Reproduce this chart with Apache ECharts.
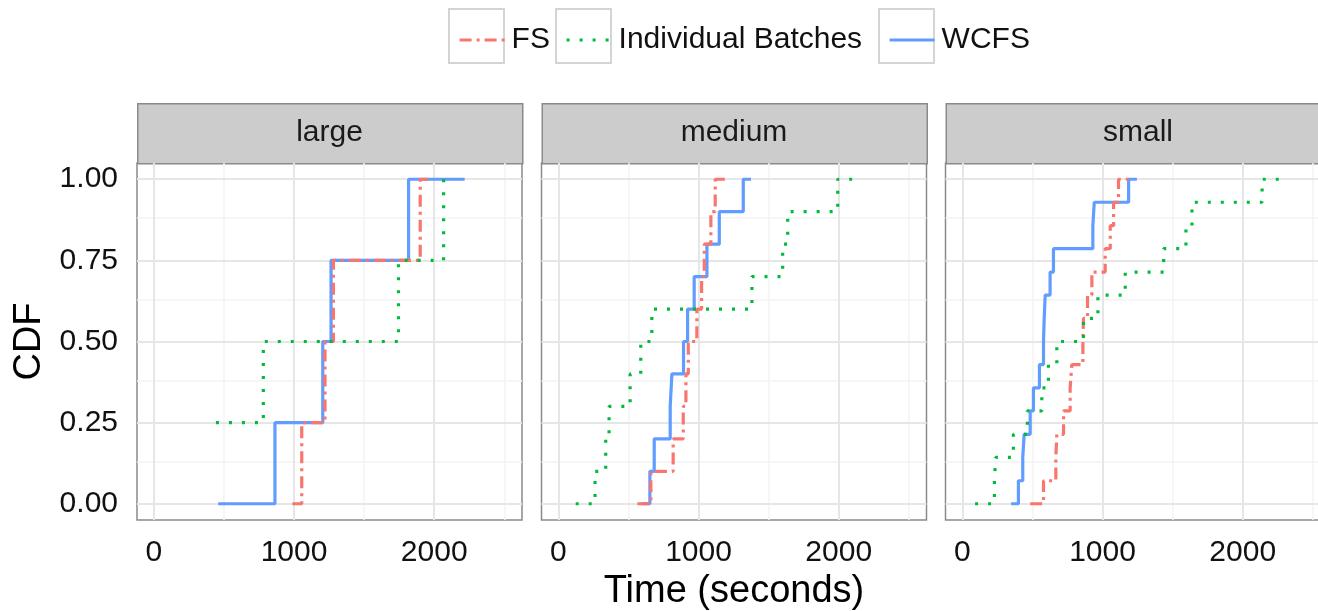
<!DOCTYPE html>
<html>
<head>
<meta charset="utf-8">
<script src="https://cdn.jsdelivr.net/npm/echarts@6/dist/echarts.min.js"></script>
<style>
  html, body { margin: 0; padding: 0; background: #fff; }
  #chart { width: 1318px; height: 611px; }
</style>
</head>
<body>
<div id="chart"></div>
<script>
const PANELS = ['large', 'medium', 'small'];
const NAMES = ['FS', 'Individual Batches', 'WCFS'];
const X_TICKS = [0, 1000, 2000];
const X_MINOR = [500, 1500, 2500];
const Y_TICKS = [0, 0.25, 0.5, 0.75, 1];
const Y_MINOR = [0.125, 0.375, 0.625, 0.875];

// large (4 jobs)
const largeFsX = [988, 1055, 1221, 1281, 1900, 1955];
const largeFsY = [0, 0.25, 0.5, 0.75, 1, 1];
const largeBatchX = [443, 781, 1745, 2067];
const largeBatchY = [0.25, 0.5, 0.75, 1];
const largeWcfsX = [459, 864, 1205, 1264, 1817, 2217];
const largeWcfsY = [0, 0.25, 0.5, 0.75, 1, 1];

// medium (10 jobs)
const mediumY = [0, 0.1, 0.2, 0.3, 0.4, 0.5, 0.6, 0.7, 0.8, 0.9, 1, 1];
const mediumFsX = [564, 660, 819, 891, 910, 927, 988, 1022, 1041, 1088, 1119, 1219];
const mediumBatchX = [124, 262, 338, 362, 512, 588, 667, 1381, 1600, 1636, 1993, 2124];
const mediumWcfsX = [596, 653, 684, 798, 810, 893, 922, 969, 1060, 1148, 1319, 1374];

// small (14 jobs)
const smallY = [0, 0.071, 0.143, 0.214, 0.286, 0.357, 0.429, 0.5, 0.571, 0.643, 0.714, 0.786, 0.857, 0.929, 1, 1];
const smallFsX = [484, 579, 667, 674, 722, 769, 781, 860, 864, 893, 924, 1019, 1055, 1079, 1114, 1186];
const smallBatchX = [91, 229, 238, 364, 464, 567, 614, 674, 864, 967, 1162, 1436, 1595, 1638, 2138, 2281];
const smallWcfsX = [348, 400, 431, 441, 484, 507, 550, 579, 584, 591, 626, 650, 931, 941, 1186, 1245];

const curves = [
  [[largeFsX, largeFsY], [largeBatchX, largeBatchY], [largeWcfsX, largeWcfsY]],
  [[mediumFsX, mediumY], [mediumBatchX, mediumY], [mediumWcfsX, mediumY]],
  [[smallFsX, smallY], [smallBatchX, smallY], [smallWcfsX, smallY]]
];

const COLORS = ['#F8766D', '#00BA38', '#619CFF'];
const DASHES = [[12, 5, 3, 5], [3, 10], 'solid'];
const FONT = 'Liberation Sans, Arial, sans-serif';

const GRID_LEFT = [137, 541.5, 945.5];
const GRID_W = 385;
const GRID_TOP = 163;
const GRID_H = 357;
const STRIP_H = 60;

const chart = echarts.init(document.getElementById('chart'));

const grids = [], xAxes = [], yAxes = [], series = [], graphics = [];

PANELS.forEach((panel, i) => {
  grids.push({
    left: GRID_LEFT[i], top: GRID_TOP, width: GRID_W, height: GRID_H,
    show: true, backgroundColor: '#fff', borderColor: '#8a8a8a', borderWidth: 1.5,
    containLabel: false, outerBoundsMode: 'none'
  });
  xAxes.push({
    type: 'value', gridIndex: i, min: -120, max: 2626,
    axisLine: { show: false },
    axisTick: { show: true, length: 8, customValues: X_TICKS, lineStyle: { color: '#333', width: 2 } },
    axisLabel: {
      customValues: X_TICKS, margin: 18, fontSize: 30, color: '#111', fontFamily: FONT,
      formatter: v => String(v)
    },
    splitLine: { show: false },
    name: i === 1 ? 'Time (seconds)' : '',
    nameLocation: 'middle', nameGap: 53,
    nameTextStyle: { fontSize: 38, color: '#000', fontFamily: FONT }
  });
  yAxes.push({
    type: 'value', gridIndex: i, min: -0.05, max: 1.05,
    axisLine: { show: false },
    axisTick: { show: i === 0, length: 9, customValues: Y_TICKS, lineStyle: { color: '#333', width: 2 } },
    axisLabel: {
      show: i === 0, customValues: Y_TICKS, margin: 19, fontSize: 30, color: '#111', fontFamily: FONT,
      formatter: v => v.toFixed(2)
    },
    splitLine: { show: false },
    name: i === 0 ? 'CDF' : '',
    nameLocation: 'middle', nameGap: 88,
    nameTextStyle: { fontSize: 38, color: '#000', fontFamily: FONT }
  });

  // panel grid lines (bottom layer)
  const minor = { color: '#f3f3f3', width: 1.5, type: 'solid' };
  const major = { color: '#e6e6e6', width: 2, type: 'solid' };
  series.push({
    type: 'line', xAxisIndex: i, yAxisIndex: i, data: [], z: 1, silent: true,
    markLine: {
      silent: true, symbol: 'none', label: { show: false }, animation: false,
      data: [
        ...X_MINOR.map(v => ({ xAxis: v, lineStyle: minor })),
        ...Y_MINOR.map(v => ({ yAxis: v, lineStyle: minor })),
        ...X_TICKS.map(v => ({ xAxis: v, lineStyle: major })),
        ...Y_TICKS.map(v => ({ yAxis: v, lineStyle: major }))
      ]
    }
  });

  NAMES.forEach((name, s) => {
    const [xs, ys] = curves[i][s];
    series.push({
      name, type: 'line', xAxisIndex: i, yAxisIndex: i, zlevel: 1, z: 3 + (s === 2 ? 0 : 1),
      step: 'end', symbol: 'none', showSymbol: false, animation: false,
      data: xs.map((x, k) => [x, ys[k]]),
      lineStyle: { color: COLORS[s], width: 3.2, type: DASHES[s], cap: 'butt' },
      itemStyle: { color: COLORS[s] }
    });
  });

  // facet strip
  graphics.push({
    type: 'rect', left: GRID_LEFT[i], top: GRID_TOP - STRIP_H,
    shape: { width: GRID_W, height: STRIP_H },
    style: { fill: '#cccccc', stroke: '#8a8a8a', lineWidth: 1.5 }
  });
  graphics.push({
    type: 'text', x: GRID_LEFT[i] + GRID_W / 2, y: GRID_TOP - STRIP_H / 2,
    style: { text: panel, font: '30px ' + FONT, fill: '#1a1a1a', align: 'center', verticalAlign: 'middle' }
  });
});

// legend key boxes
const KEY_LEFT = [448, 555, 878];
KEY_LEFT.forEach(x => {
  graphics.push({
    type: 'rect', left: x, top: 8, shape: { width: 55, height: 54 },
    style: { fill: '#fff', stroke: '#d4d4d4', lineWidth: 2 }, z: 0
  });
});

const legends = NAMES.map((name, s) => ({
  data: [name], left: KEY_LEFT[s] + 5, top: 20, itemWidth: 45, itemHeight: 30,
  itemStyle: { opacity: 0 },
  lineStyle: { width: 3.2 },
  textStyle: { fontSize: 30, color: '#111', fontFamily: FONT, padding: [0, 0, 0, 2] },
  selectedMode: false
}));

chart.setOption({
  animation: false,
  grid: grids,
  xAxis: xAxes,
  yAxis: yAxes,
  legend: legends,
  graphic: graphics,
  series
});
</script>
</body>
</html>
